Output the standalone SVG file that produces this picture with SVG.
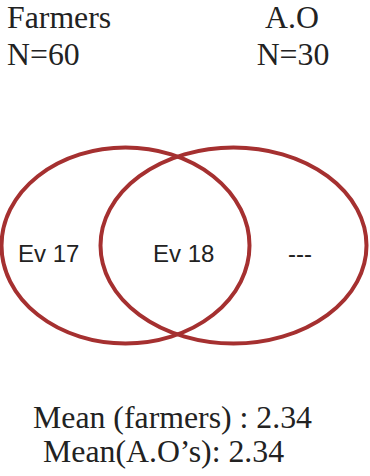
<svg xmlns="http://www.w3.org/2000/svg" width="370" height="476" viewBox="0 0 370 476">
<style>
.t{font-family:"Liberation Serif","Times New Roman",serif;font-size:31.8px;fill:#222}
.s{font-family:"Liberation Sans",Arial,sans-serif;font-size:24px;fill:#222}
.c{fill:none;stroke:#a53030;stroke-width:4}
</style>
<rect width="370" height="476" fill="#fff"/>
<g id="labels">
<text class="t" x="7" y="28">Farmers</text>
<text class="t" x="7" y="65">N=60</text>
<text class="t" x="292" y="28" text-anchor="middle">A.O</text>
<text class="t" x="293" y="65" text-anchor="middle">N=30</text>
</g>
<g id="farmers-set"><ellipse class="c" cx="125.5" cy="245.5" rx="124" ry="98"/></g>
<g id="ao-set"><ellipse class="c" cx="233.5" cy="245.5" rx="133" ry="98"/></g>
<g id="regions">
<text class="s" x="18" y="262">Ev 17</text>
<text class="s" x="153" y="262">Ev 18</text>
<text class="s" x="288" y="262">---</text>
</g>
<g id="means">
<text class="t" x="33" y="428">Mean (farmers) : 2.34</text>
<text class="t" x="43" y="462">Mean(A.O’s): 2.34</text>
</g>
</svg>
